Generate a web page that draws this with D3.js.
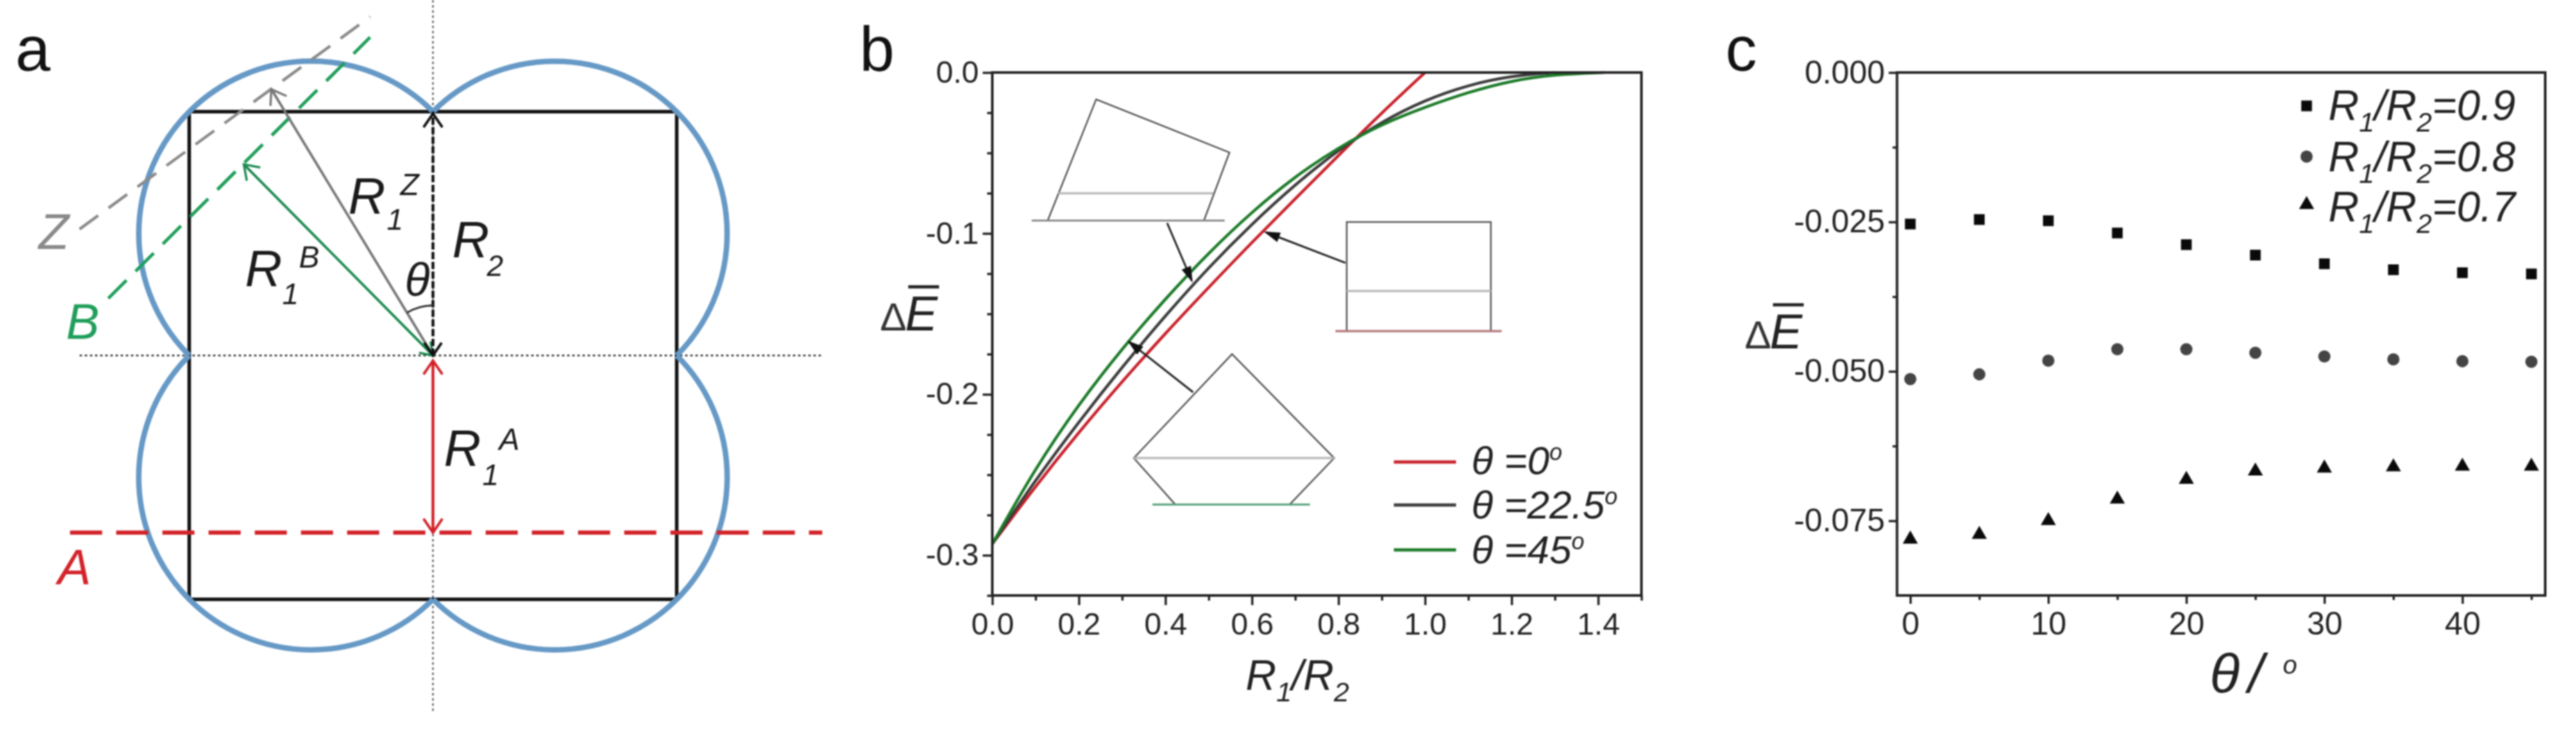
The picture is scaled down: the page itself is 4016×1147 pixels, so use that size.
<!DOCTYPE html>
<html>
<head>
<meta charset="utf-8">
<title>chart</title>
<script src="https://cdn.jsdelivr.net/npm/d3@7"></script>
<style>
	html, body { margin: 0; background: #fff; }
	svg { display: block; filter: blur(0.9px); }
	text { font-family: "Liberation Sans", Arial, sans-serif; fill: #1a1a1a; }
</style>
</head>
<body>
<script>
//panel a: geometry in units of R2, origin at the centre of the square
var squareCorners = [[-1, 1], [1, 1], [1, -1], [-1, -1]];
var lobeEnds = [[[0, 1], [-1, 0]], [[-1, 0], [0, -1]], [[0, -1], [1, 0]], [[1, 0], [0, 1]]];
var lineZ = [[-1.45, 0.518], [-0.258, 1.389]];
var lineB = [[-1.332, 0.234], [-0.258, 1.305]];
var lineA = [[-1.489, -0.726], [1.597, -0.726]];
var guideH = [[-1.45, 0], [1.597, 0]];
var guideV = [[0, 1.458], [0, -1.468]];
var tipZ = [-0.663, 1.092];
var tipB = [-0.776, 0.784];

//panel b: curves
var ratioValues = [0, 0.1, 0.2, 0.3, 0.4, 0.5, 0.6, 0.7, 0.8, 0.9, 1.0, 1.1, 1.2, 1.3, 1.414];
var energy0 = [-0.293, -0.257, -0.2235, -0.192, -0.162, -0.1335, -0.1055, -0.0785, -0.0515, -0.025, 0];
var energy225 = [-0.293, -0.253, -0.217, -0.183, -0.151, -0.121, -0.094, -0.0695, -0.048, -0.0305, -0.017, -0.0077, -0.002, 0];
var energy45 = [-0.293, -0.2455, -0.206, -0.1715, -0.1405, -0.112, -0.0865, -0.0645, -0.0465, -0.032, -0.0215, -0.0122, -0.005, -0.0012, 0];
var bLegend = ["0", "22.5", "45"];

//panel b: inset sketches, in the plot's own data units
var insetTilted = [[0.128, -0.092], [0.240, -0.0167], [0.548, -0.0497], [0.489, -0.092]];
var insetSquare = [[0.819, -0.1607], [0.819, -0.0929], [1.152, -0.0929], [1.152, -0.1607]];
var insetPenta = [[0.423, -0.2685], [0.327, -0.2396], [0.554, -0.175], [0.790, -0.2396], [0.687, -0.2685]];
var insetMids = [[[0.153, -0.0751], [0.510, -0.0751]], [[0.819, -0.1358], [1.152, -0.1358]], [[0.327, -0.2396], [0.790, -0.2396]]];
var insetBases = [[[0.091, -0.092], [0.537, -0.092]], [[0.793, -0.1607], [1.177, -0.1607]], [[0.370, -0.2685], [0.734, -0.2685]]];
var insetArrows = [[[0.404, -0.0935], [0.461, -0.1294]], [[0.816, -0.1183], [0.632, -0.0993]], [[0.464, -0.1987], [0.316, -0.1674]]];

//panel c: points
var thetaValues = [0, 5, 10, 15, 20, 25, 30, 35, 40, 45];
var energy09 = [-0.02535, -0.0246, -0.0248, -0.02685, -0.0288, -0.03055, -0.032, -0.033, -0.0335, -0.0337];
var energy08 = [-0.0513, -0.0505, -0.0482, -0.0463, -0.0463, -0.0469, -0.0475, -0.048, -0.0483, -0.0484];
var energy07 = [-0.0781, -0.0773, -0.075, -0.0714, -0.0681, -0.0667, -0.0662, -0.066, -0.0659, -0.0659];
var cLegend = ["0.9", "0.8", "0.7"];

//tick values
var bXMajor = [0, 0.2, 0.4, 0.6, 0.8, 1.0, 1.2, 1.4];
var bXMinor = [0.1, 0.3, 0.5, 0.7, 0.9, 1.1, 1.3, 1.5];
var bYMajor = [0, -0.1, -0.2, -0.3];
var bYMinor = [-0.025, -0.05, -0.075, -0.125, -0.15, -0.175, -0.225, -0.25, -0.275, -0.325];
var cXMajor = [0, 10, 20, 30, 40];
var cXMinor = [5, 15, 25, 35, 45];
var cYMajor = [0, -0.025, -0.05, -0.075];
var cYMinor = [-0.0125, -0.0375, -0.0625];

//colours
var blue = "#6699c6", red = "#d2232a", green = "#1f9e5a", grey = "#8a8a8a";
var curveRed = "#c8202a", curveGrey = "#3c3c3c", curveGreen = "#1c7a28";

var width = 4016,
	height = 1147;

var svg = d3.select("body")
	.append("svg")
	.attr("width", width)
	.attr("height", height);

//write one text, returns nothing
function label(g, x, y, str, size, color, style){
	g.append("text")
		.attr("x", x)
		.attr("y", y)
		.attr("font-size", size)
		.attr("font-style", style || "italic")
		.style("fill", color || "#1a1a1a")
		.text(str);
}

//straight line between two pixel points
function segment(g, a, b, color, w, dash){
	g.append("line")
		.attr("x1", a[0]).attr("y1", a[1])
		.attr("x2", b[0]).attr("y2", b[1])
		.attr("stroke", color)
		.attr("stroke-width", w)
		.attr("stroke-dasharray", dash || null);
}

//open arrow head at b, pointing away from a
function head(g, a, b, color, w, len, closed){
	var ang = Math.atan2(b[1] - a[1], b[0] - a[0]),
		spread = closed ? 0.3 : 0.6;
	var p1 = [b[0] - len * Math.cos(ang - spread), b[1] - len * Math.sin(ang - spread)],
		p2 = [b[0] - len * Math.cos(ang + spread), b[1] - len * Math.sin(ang + spread)];
	g.append("path")
		.attr("d", "M" + p1 + "L" + b + "L" + p2 + (closed ? "Z" : ""))
		.attr("fill", closed ? color : "none")
		.attr("stroke", color)
		.attr("stroke-width", w);
}

/* ---------- panel a ---------- */
var a = svg.append("g").attr("class", "panelA");
var ax = d3.scaleLinear().domain([-1, 1]).range([295, 1055]),
	ay = d3.scaleLinear().domain([-1, 1]).range([934, 174]);
var ap = function(d){ return [ax(d[0]), ay(d[1])]; };

label(a, 24, 110, "a", 98, "#111", "normal");

//dotted guides
segment(a, ap(guideH[0]), ap(guideH[1]), "#333", 2.5, "4 4");
segment(a, ap(guideV[0]), ap(guideV[1]), "#666", 2.5, "4 4");

//square
a.append("path")
	.attr("d", d3.line()(squareCorners.map(ap)) + "Z")
	.attr("fill", "none")
	.attr("stroke", "#111")
	.attr("stroke-width", 5.5);

//four half circles on the sides of the quadrants
a.selectAll(".lobe")
	.data(lobeEnds)
	.enter()
	.append("path")
	.attr("class", "lobe")
	.attr("d", function(d){
		var p = ap(d[0]), q = ap(d[1]),
			r = Math.hypot(q[0] - p[0], q[1] - p[1]) / 2;
		return "M" + p + "A" + r + "," + r + " 0 0 0 " + q;
	})
	.attr("fill", "none")
	.attr("stroke", blue)
	.attr("stroke-width", 8.5);

//dashed construction lines
segment(a, ap(lineZ[0]), ap(lineZ[1]), grey, 4.5, "36 20");
segment(a, ap(lineB[0]), ap(lineB[1]), green, 5, "40 20");
segment(a, ap(lineA[0]), ap(lineA[1]), red, 6.5, "50 22");

//arrows from the centre
var c0 = ap([0, 0]);
segment(a, c0, ap(tipZ), "#777", 4);
head(a, c0, ap(tipZ), "#777", 3.5, 26);
segment(a, c0, ap(tipB), "#1d8a50", 4);
head(a, c0, ap(tipB), "#1d8a50", 3.5, 26);
head(a, ap(tipB), c0, "#1d8a50", 3.5, 22);
segment(a, [c0[0], c0[1] + 8], ap([0, lineA[0][1]]), red, 4.5);
head(a, ap([0, lineA[0][1]]), [c0[0], c0[1] + 8], red, 4, 26);
head(a, [c0[0], c0[1] + 8], ap([0, lineA[0][1]]), red, 4, 26);
segment(a, c0, ap([0, 1]), "#111", 4.5, "11 4");
head(a, c0, [c0[0], ay(1) + 3], "#111", 4, 26);
head(a, ap([0, 1]), c0, "#111", 4, 24);

//theta angle
a.append("path")
	.attr("transform", "translate(" + c0 + ")")
	.attr("d", d3.arc().innerRadius(78).outerRadius(78)
		.startAngle(-Math.atan2(-tipZ[0], tipZ[1])).endAngle(0)())
	.attr("fill", "none")
	.attr("stroke", "#333")
	.attr("stroke-width", 3);

//letters
label(a, 60, 388, "Z", 78, grey);
label(a, 103, 528, "B", 78, green);
label(a, 90, 911, "A", 78, red);
label(a, 543, 333, "R", 80);
label(a, 603, 358, "1", 46);
label(a, 624, 304, "Z", 48);
label(a, 705, 401, "R", 80);
label(a, 759, 430, "2", 46);
label(a, 382, 446, "R", 80);
label(a, 440, 474, "1", 46);
label(a, 466, 417, "B", 48);
label(a, 631, 461, "θ", 72);
label(a, 692, 726, "R", 80);
label(a, 752, 756, "1", 46);
label(a, 778, 701, "A", 48);

/* ---------- shared axis drawing ---------- */
function drawFrame(g, x, y, xMajor, xMinor, yMajor, yMinor, yFormat, xFormat, majorLen, minorLen, fontSize){
	var r = x.range(), t = y.range();
	var bottom = g.append("g").attr("transform", "translate(0," + t[0] + ")");
	var left = g.append("g").attr("transform", "translate(" + r[0] + ",0)");

	bottom.call(d3.axisBottom(x).tickValues(xMajor).tickSize(majorLen).tickPadding(12).tickFormat(xFormat));
	bottom.append("g").call(d3.axisBottom(x).tickValues(xMinor).tickSize(minorLen).tickFormat(""));
	left.call(d3.axisLeft(y).tickValues(yMajor).tickSize(majorLen).tickPadding(6).tickFormat(yFormat));
	left.append("g").call(d3.axisLeft(y).tickValues(yMinor).tickSize(minorLen).tickFormat(""));

	g.selectAll(".domain").remove();
	g.selectAll(".tick line").attr("stroke", "#222").attr("stroke-width", 3.5);
	g.selectAll(".tick text")
		.attr("font-size", fontSize)
		.attr("font-family", "Liberation Sans")
		.style("fill", "#222");

	g.append("rect")
		.attr("x", r[0]).attr("y", t[1])
		.attr("width", r[1] - r[0]).attr("height", t[0] - t[1])
		.attr("fill", "none")
		.attr("stroke", "#222")
		.attr("stroke-width", 4);
}

//Delta E bar axis label
function energyLabel(g, x, y){
	label(g, x, y, "Δ", 62, "#333", "normal");
	label(g, x + 39, y, "E", 76, "#222");
	segment(g, [x + 44, y - 68], [x + 92, y - 68], "#222", 5);
}

//R1/R2 written out with subscripts
function ratioLabel(g, x, y, size, tail){
	g.append("text")
		.attr("x", x)
		.attr("y", y)
		.attr("font-size", size)
		.attr("font-style", "italic")
		.style("fill", "#222")
		.call(function(t){
			t.append("tspan").text("R");
			t.append("tspan").attr("dy", size * 0.28).attr("font-size", size * 0.65).text("1");
			t.append("tspan").attr("dy", -size * 0.28).text("/R");
			t.append("tspan").attr("dy", size * 0.28).attr("font-size", size * 0.65).text("2");
			t.append("tspan").attr("dy", -size * 0.28).text(tail);
		});
}

/* ---------- panel b ---------- */
var b = svg.append("g").attr("class", "panelB");
var bx = d3.scaleLinear().domain([0, 1.5]).range([1547, 2559]),
	by = d3.scaleLinear().domain([-0.325, 0]).range([928, 113]);
var bp = function(d){ return [bx(d[0]), by(d[1])]; };

label(b, 1340, 110, "b", 98, "#111", "normal");

//inset sketches
[insetTilted, insetSquare, insetPenta].forEach(function(poly, i){
	b.append("path")
		.attr("d", d3.line()(poly.map(bp)))
		.attr("fill", "none")
		.attr("stroke", "#555")
		.attr("stroke-width", 2.5);
	segment(b, bp(insetMids[i][0]), bp(insetMids[i][1]), "#bbb", 3.5);
});
segment(b, bp(insetBases[0][0]), bp(insetBases[0][1]), "#888", 3);
segment(b, bp(insetBases[1][0]), bp(insetBases[1][1]), "#b5787c", 3.5);
segment(b, bp(insetBases[2][0]), bp(insetBases[2][1]), "#4f9e78", 3);

//curves
var curve = d3.line()
	.x(function(d){ return bx(d[0]); })
	.y(function(d){ return by(d[1]); })
	.curve(d3.curveBasis);
var bColors = [curveRed, curveGrey, curveGreen];

[energy0, energy225, energy45].forEach(function(vals, i){
	b.append("path")
		.datum(vals.map(function(v, j){ return [ratioValues[j], v]; }))
		.attr("d", curve)
		.attr("fill", "none")
		.attr("stroke", bColors[i])
		.attr("stroke-width", 4.5);
});

//arrows from inset to curve
insetArrows.forEach(function(d){
	segment(b, bp(d[0]), bp(d[1]), "#222", 3);
	head(b, bp(d[0]), bp(d[1]), "#111", 2, 22, true);
});

drawFrame(b, bx, by, bXMajor, bXMinor, bYMajor, bYMinor,
	function(d){ return d.toFixed(1); },
	function(d){ return d.toFixed(1); }, 15, 8, 48);

energyLabel(b, 1372, 515);
ratioLabel(b, 1942, 1075, 66, "");

//legend
bLegend.forEach(function(v, i){
	var ly = [720, 787, 857][i],
		ty = [739, 808, 878][i];
	segment(b, [2173, ly], [2270, ly], bColors[i], 5);
	var t = b.append("text")
		.attr("x", 2294)
		.attr("y", ty)
		.attr("font-size", 62)
		.attr("font-style", "italic")
		.style("fill", "#222");
	t.append("tspan").text("θ =" + v);
	t.append("tspan").attr("dy", -22).attr("font-size", 36).text("o");
});

/* ---------- panel c ---------- */
var c = svg.append("g").attr("class", "panelC");
var cx = d3.scaleLinear().domain([-0.96, 46]).range([2957.5, 3968]),
	cy = d3.scaleLinear().domain([-0.0875, 0]).range([928, 113]);

label(c, 2690, 110, "c", 98, "#111", "normal");

drawFrame(c, cx, cy, cXMajor, cXMinor, cYMajor, cYMinor,
	function(d){ return d.toFixed(3); },
	function(d){ return d; }, 13, 7, 50);

//tick labels use a plain hyphen like the original
c.selectAll(".tick text").text(function(){ return d3.select(this).text().replace("−", "-"); });

var symbols = [d3.symbolSquare, d3.symbolCircle, d3.symbolTriangle],
	symSizes = [280, 285, 240],
	symColors = ["#0a0a0a", "#444", "#0a0a0a"];

[energy09, energy08, energy07].forEach(function(vals, i){
	c.selectAll(".pt" + i)
		.data(vals)
		.enter()
		.append("path")
		.attr("class", "pt" + i)
		.attr("d", d3.symbol().type(symbols[i]).size(symSizes[i]))
		.attr("fill", symColors[i])
		.attr("transform", function(d, j){
			return "translate(" + cx(thetaValues[j]) + "," + cy(d) + ")";
		});
});

//legend
cLegend.forEach(function(v, i){
	var my = [165, 244, 319][i],
		ty = [187, 267, 345][i];
	c.append("path")
		.attr("d", d3.symbol().type(symbols[i]).size(symSizes[i]))
		.attr("fill", symColors[i])
		.attr("transform", "translate(3596," + my + ")");
	ratioLabel(c, 3630, ty, 66, "=" + v);
});

energyLabel(c, 2720, 543);

//x axis title
label(c, 3445, 1079, "θ", 86, "#222");
label(c, 3505, 1079, "/", 86, "#222");
label(c, 3559, 1050, "o", 40, "#222");
</script>
</body>
</html>
